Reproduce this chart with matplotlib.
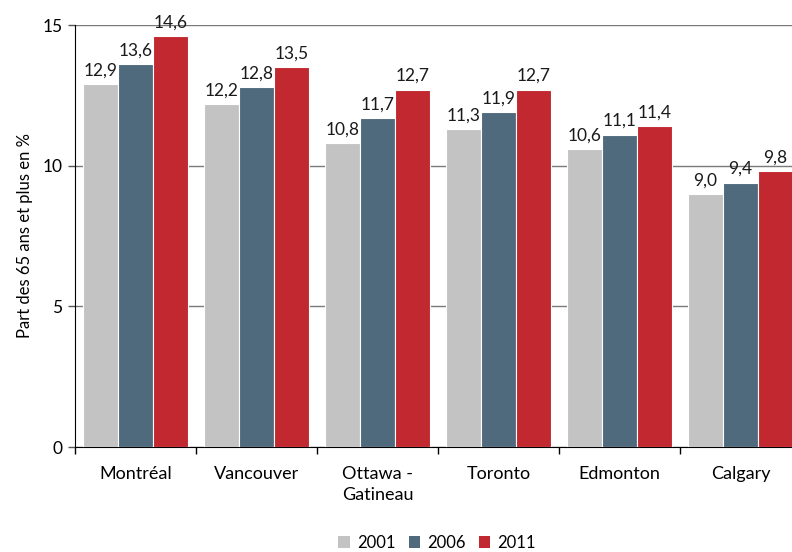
import matplotlib
matplotlib.use("Agg")
import matplotlib.pyplot as plt
from matplotlib.patches import Patch
import numpy as np

plt.rcParams['font.family'] = ['Lato', 'DejaVu Sans']

categories = ["Montréal", "Vancouver", "Ottawa -\nGatineau", "Toronto", "Edmonton", "Calgary"]
years = ["2001", "2006", "2011"]
v2001 = [12.9, 12.2, 10.8, 11.3, 10.6, 9.0]
v2006 = [13.6, 12.8, 11.7, 11.9, 11.1, 9.4]
v2011 = [14.6, 13.5, 12.7, 12.7, 11.4, 9.8]
colors = ["#C3C3C3", "#4F6A7D", "#C1282F"]

fig = plt.figure(figsize=(7.92, 5.52), dpi=100)
ax = fig.add_axes([75/792, 1-447/552, 726/792, (447-25)/552])

x = np.arange(len(categories))
w = 0.29
for i, (vals, c) in enumerate(zip([v2001, v2006, v2011], colors)):
    pos = x + (i-1)*w
    ax.bar(pos, vals, width=w, color=c, edgecolor="white", linewidth=0.8, zorder=3)
    for p, v in zip(pos, vals):
        ax.text(p, v + 0.2, f"{v:.1f}".replace(".", ","), ha="center", va="bottom",
                fontsize=12.5, color="#1a1a1a", zorder=4)

ax.set_xlim(-0.5, len(categories)-0.5)
ax.set_ylim(0, 15)
ax.set_yticks([0, 5, 10, 15])
ax.set_yticklabels(["0", "5", "10", "15"], fontsize=12.5)
ax.yaxis.grid(True, color="#7a7a7a", linewidth=1.0, zorder=0)
ax.set_axisbelow(True)

ax.set_xticks(x)
ax.set_xticklabels(categories, fontsize=13, linespacing=1.35)
ax.tick_params(axis="x", which="major", length=0, pad=14)
ax.set_xticks(np.arange(len(categories)+1)-0.5, minor=True)
ax.tick_params(axis="x", which="minor", length=5, width=1, color="black", direction="out")
ax.tick_params(axis="y", length=5, width=1, color="#555555", direction="out", pad=4)

for s in ["top", "right"]:
    ax.spines[s].set_visible(False)
ax.spines["left"].set_color("black")
ax.spines["bottom"].set_color("black")

ax.set_ylabel("Part des 65 ans et plus en %", fontsize=12, labelpad=7)

handles = [Patch(facecolor=c, edgecolor="none") for c in colors]
fig.legend(handles, years, loc="center", bbox_to_anchor=(437/792, 1-543/552), ncol=3,
           frameon=False, fontsize=12, handlelength=0.7, handleheight=0.7,
           handletextpad=0.4, columnspacing=0.8)

fig.savefig("out.png", dpi=100)
